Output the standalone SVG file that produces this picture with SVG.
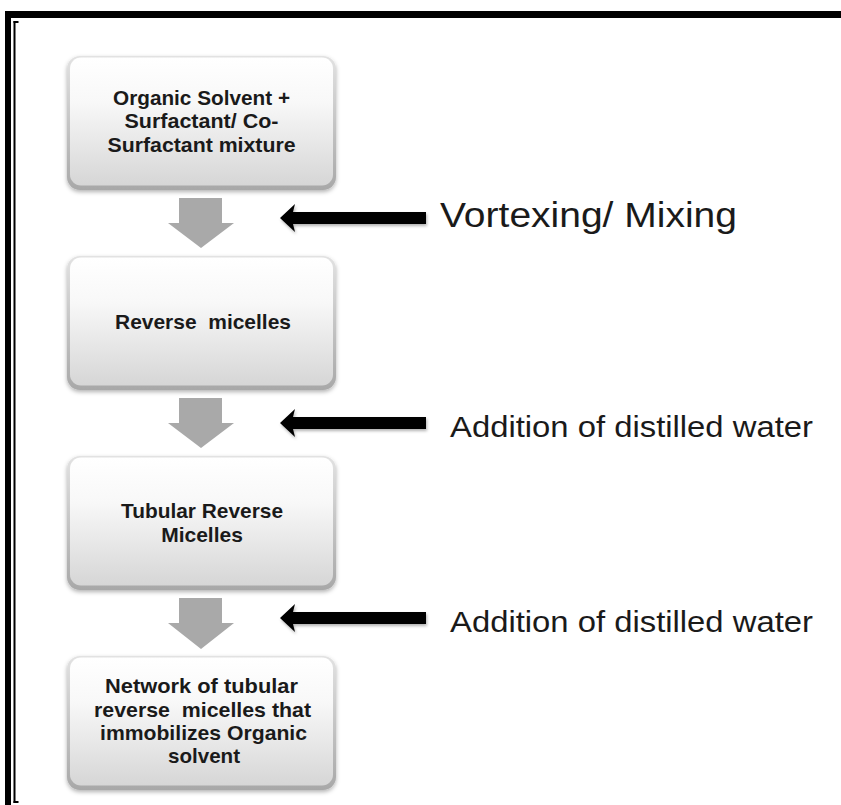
<svg xmlns="http://www.w3.org/2000/svg" width="841" height="805" viewBox="0 0 841 805">
  <defs>
    <linearGradient id="edge" x1="0" y1="0" x2="0" y2="1">
      <stop offset="0" stop-color="#e2e2e2"/>
      <stop offset="1" stop-color="#a8a8a8"/>
    </linearGradient>
    <linearGradient id="face" x1="0" y1="0" x2="0" y2="1">
      <stop offset="0" stop-color="#ffffff"/>
      <stop offset="0.35" stop-color="#f8f8f8"/>
      <stop offset="1" stop-color="#d6d6d6"/>
    </linearGradient>
    <filter id="shadow" x="-10%" y="-10%" width="120%" height="130%">
      <feDropShadow dx="0" dy="2" stdDeviation="2" flood-color="#000" flood-opacity="0.3"/>
    </filter>
    <filter id="ashadow" x="-10%" y="-40%" width="120%" height="180%">
      <feDropShadow dx="1" dy="2" stdDeviation="1.5" flood-color="#000" flood-opacity="0.3"/>
    </filter>
    <style>
      .btxt { font-family: "Liberation Sans", Arial, sans-serif; font-weight: bold; font-size: 21px; fill: #1a1a1a; text-anchor: middle; }
      .ltxt { font-family: "Liberation Sans", Arial, sans-serif; font-size: 30px; fill: #1a1a1a; }
      .grey { fill: #a9a9a9; }
      .black { fill: #000; filter: url(#ashadow); }
      .edge { fill: url(#edge); filter: url(#shadow); }
      .face { fill: url(#face); }
    </style>
  </defs>

  <rect width="841" height="805" fill="#fff"/>

  <g id="frame">
    <rect x="5" y="11" width="836" height="7" fill="#000"/>
    <rect x="5" y="11" width="6" height="794" fill="#000"/>
    <rect x="13.5" y="21" width="2" height="782" fill="#000"/>
    <rect x="13.5" y="21" width="5" height="2" fill="#000"/>
    <rect x="13.5" y="801" width="5" height="2" fill="#000"/>
  </g>

  <g id="node1">
    <rect class="edge" x="67" y="56" width="269" height="134" rx="13"/>
    <rect class="face" x="70" y="57.5" width="263" height="128" rx="11"/>
    <text class="btxt" x="201.5" y="105" textLength="177" lengthAdjust="spacingAndGlyphs">Organic Solvent +</text>
    <text class="btxt" x="201.5" y="128" textLength="154" lengthAdjust="spacingAndGlyphs">Surfactant/ Co-</text>
    <text class="btxt" x="201.5" y="152" textLength="188" lengthAdjust="spacingAndGlyphs">Surfactant mixture</text>
  </g>

  <g id="node2">
    <rect class="edge" x="67" y="256" width="269" height="134" rx="13"/>
    <rect class="face" x="70" y="257.5" width="263" height="128" rx="11"/>
    <text class="btxt" x="203" y="329" textLength="176" lengthAdjust="spacingAndGlyphs" xml:space="preserve">Reverse  micelles</text>
  </g>

  <g id="node3">
    <rect class="edge" x="67" y="456" width="269" height="134" rx="13"/>
    <rect class="face" x="70" y="457.5" width="263" height="128" rx="11"/>
    <text class="btxt" x="202" y="518" textLength="162" lengthAdjust="spacingAndGlyphs">Tubular Reverse</text>
    <text class="btxt" x="202" y="542">Micelles</text>
  </g>

  <g id="node4">
    <rect class="edge" x="67" y="656" width="269" height="134" rx="13"/>
    <rect class="face" x="70" y="657.5" width="263" height="128" rx="11"/>
    <text class="btxt" x="201.5" y="693" textLength="193" lengthAdjust="spacingAndGlyphs">Network of tubular</text>
    <text class="btxt" x="202.5" y="717" textLength="217" lengthAdjust="spacingAndGlyphs" xml:space="preserve">reverse  micelles that</text>
    <text class="btxt" x="203.5" y="740" textLength="207" lengthAdjust="spacingAndGlyphs">immobilizes Organic</text>
    <text class="btxt" x="204" y="763" textLength="72" lengthAdjust="spacingAndGlyphs">solvent</text>
  </g>

  <g id="connectors">
    <polygon class="grey" points="179,198 222,198 222,223 234,223 201,248 168,223 179,223"/>
    <polygon class="grey" points="179,398 222,398 222,423 234,423 201,448 168,423 179,423"/>
    <polygon class="grey" points="179,598 222,598 222,623 234,623 201,649 168,623 179,623"/>

    <polygon class="black" points="280,218 295,204 293,212 426,212 426,224 293,224 295,232"/>
    <polygon class="black" points="280,423 295,409 293,417 426,417 426,429 293,429 295,437"/>
    <polygon class="black" points="280,618 295,604 293,612 426,612 426,624 293,624 295,632"/>
  </g>

  <g id="labels">
    <text class="ltxt" x="440" y="227" textLength="297" lengthAdjust="spacingAndGlyphs" style="font-size:35px">Vortexing/ Mixing</text>
    <text class="ltxt" x="450" y="437" textLength="363" lengthAdjust="spacingAndGlyphs">Addition of distilled water</text>
    <text class="ltxt" x="450" y="632" textLength="363" lengthAdjust="spacingAndGlyphs">Addition of distilled water</text>
  </g>
</svg>
